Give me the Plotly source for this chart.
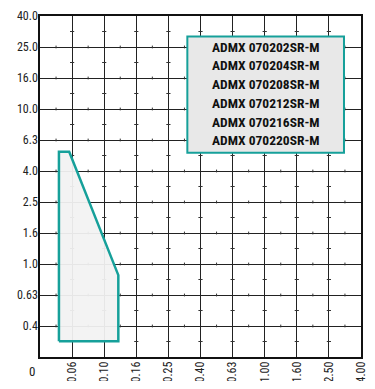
import plotly.graph_objects as go

# Axis tick labels (evenly spaced grid steps)
x_labels = ["0.06", "0.10", "0.16", "0.25", "0.40", "0.63", "1.00", "1.60", "2.50", "4.00"]
y_labels = ["0.4", "0.63", "1.0", "1.6", "2.5", "4.0", "6.3", "10.0", "16.0", "25.0", "40.0"]

# Application area polygon, in grid-step units of the two axes
area_x = [0.59, 0.59, 0.91, 2.44, 2.44, 0.59]
area_y = [0.51, 6.62, 6.62, 2.64, 0.51, 0.51]

# Legend / product names
products = ["ADMX 070202SR-M", "ADMX 070204SR-M", "ADMX 070208SR-M",
            "ADMX 070212SR-M", "ADMX 070216SR-M", "ADMX 070220SR-M"]

TEAL = "#16a09a"
FONT = "Liberation Sans Narrow, Roboto Condensed, Roboto, sans-serif"
nx = len(x_labels)
ny = len(y_labels)

fig = go.Figure()

# minor tick dashes on the grid lines
mx, my, hx, hy = [], [], [], []
for i in range(1, nx):
    for k in range(ny):
        mx.append(i); my.append(k + 0.5)
for j in range(1, ny):
    for k in range(nx):
        hx.append(k + 0.5); hy.append(j)
fig.add_trace(go.Scatter(x=mx, y=my, mode="markers", hoverinfo="skip",
                         marker=dict(symbol="line-ew", size=3, line=dict(width=1, color="#333"))))
fig.add_trace(go.Scatter(x=hx, y=hy, mode="markers", hoverinfo="skip",
                         marker=dict(symbol="line-ns", size=2, line=dict(width=1, color="#333"))))

fig.add_trace(go.Scatter(x=area_x, y=area_y, mode="lines", fill="toself",
                         fillcolor="rgba(242,242,242,0.94)",
                         line=dict(color=TEAL, width=2.5), hoverinfo="skip"))

# legend box
fig.add_shape(type="rect", xref="x", yref="y", x0=4.59, x1=9.47, y0=6.59, y1=10.34,
              fillcolor="#e8e8e8", line=dict(color=TEAL, width=2), layer="above")
y_top, step = 10.01, 0.605
for i, p in enumerate(products):
    fig.add_annotation(x=7.03, y=y_top - i * step, xref="x", yref="y", text="<b>%s</b>" % p,
                       showarrow=False, font=dict(family=FONT, size=13.5, color="#111"))

fig.add_annotation(x=0, y=0, xref="x", yref="y", text="0", showarrow=False,
                   xshift=-8, yshift=-14, font=dict(family=FONT, size=13, color="#222"))

fig.update_layout(
    width=359, height=373,
    margin=dict(l=32, r=6, t=8, b=24, pad=0),
    paper_bgcolor="white", plot_bgcolor="white",
    showlegend=False,
    font=dict(family=FONT, size=12.5, color="#222"),
    xaxis=dict(range=[0, nx], tickmode="array", tickvals=list(range(1, nx + 1)),
               ticktext=x_labels, tickangle=-90, showgrid=True, gridcolor="#222", gridwidth=1,
               showline=True, linecolor="#111", linewidth=1.5, mirror=True, zeroline=False,
               ticks="", ticklen=0, ticklabelstandoff=-2, ticklabeloverflow="allow",
               tickfont=dict(size=12), fixedrange=True, automargin=False),
    yaxis=dict(range=[0, ny], tickmode="array", tickvals=list(range(1, ny + 1)),
               ticktext=y_labels, showgrid=True, gridcolor="#222", gridwidth=1,
               showline=True, linecolor="#111", linewidth=1.5, mirror=True, zeroline=False,
               ticks="", ticklen=0, ticklabelstandoff=-2, ticklabeloverflow="allow",
               tickfont=dict(size=12), fixedrange=True, automargin=False),
)

fig.write_html("out.html")
